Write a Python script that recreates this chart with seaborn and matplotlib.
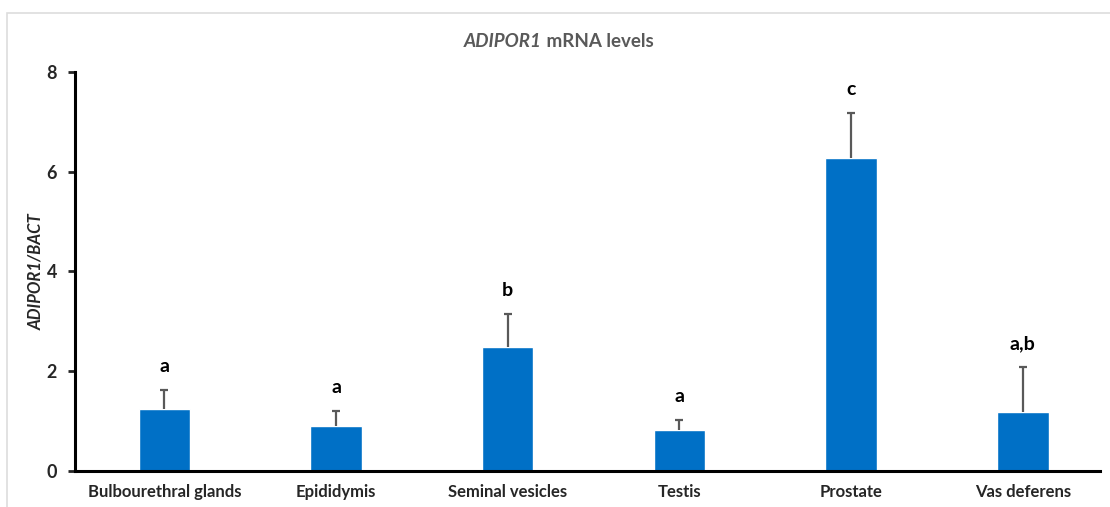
import pandas as pd
import seaborn as sns
import matplotlib.pyplot as plt
from matplotlib.patches import Rectangle

# Data
tissues = ['Bulbourethral glands', 'Epididymis', 'Seminal vesicles',
           'Testis', 'Prostate', 'Vas deferens']
mean_expr = [1.24, 0.90, 2.49, 0.82, 6.28, 1.18]
sem_expr = [0.38, 0.30, 0.66, 0.20, 0.89, 0.90]
letters = ['a', 'a', 'b', 'a', 'c', 'a,b']

df = pd.DataFrame({'Tissue': tissues, 'Expr': mean_expr})

sns.set_style('white')
plt.rcParams['font.family'] = ['Lato', 'DejaVu Sans']

fig = plt.figure(figsize=(11.1, 5.07), dpi=100)
ax = fig.add_axes([0.0676, 0.071, 0.9234, 0.787])

sns.barplot(data=df, x='Tissue', y='Expr', color='#0070C6', saturation=1,
            width=0.3, errorbar=None, ax=ax)

# upper-only error bars
xs = [p.get_x() + p.get_width() / 2 for p in ax.patches]
eb = ax.errorbar(xs, mean_expr, yerr=[[0] * len(sem_expr), sem_expr],
                 fmt='none', ecolor='#595959', elinewidth=1.6, capsize=3,
                 capthick=1.6)
eb[1][0].set_visible(False)  # hide the lower caps

# significance letters
for x, m, s, lab in zip(xs, mean_expr, sem_expr, letters):
    ax.text(x, m + s + 0.3, lab, ha='center', va='bottom',
            fontsize=14, fontweight='bold', color='black')

ax.set_ylim(0, 8)
ax.set_xlim(-0.52, 5.45)
ax.set_yticks([0, 2, 4, 6, 8])
ax.set_xlabel('')
ax.set_ylabel('ADIPOR1/BACT', fontsize=12, fontweight='bold',
              fontstyle='italic')
ax.yaxis.set_label_coords(-0.03, 0.5)

for side in ['top', 'right']:
    ax.spines[side].set_visible(False)
for side in ['left', 'bottom']:
    ax.spines[side].set_linewidth(2.2)
    ax.spines[side].set_color('black')

ax.tick_params(axis='y', direction='out', length=5, width=2, left=True,
               labelsize=13, pad=8)
ax.tick_params(axis='x', length=0, labelsize=12, pad=9)
for lbl in ax.get_yticklabels() + ax.get_xticklabels():
    lbl.set_fontweight('bold')

# title with italic gene name
fig.text(0.488, 0.918, 'ADIPOR1', ha='right', va='center', fontsize=13.5,
         fontstyle='italic', fontweight='bold', color='#595959')
fig.text(0.488, 0.918, ' mRNA levels', ha='left', va='center', fontsize=13.5,
         fontweight='bold', color='#595959')

# light chart frame
fig.patches.append(Rectangle((7 / 1110, -0.05), 1.1, 1.05 - 13 / 507,
                             transform=fig.transFigure, fill=False,
                             edgecolor='#DDDDDD', linewidth=1.2))

fig.savefig('out.png', dpi=100)
